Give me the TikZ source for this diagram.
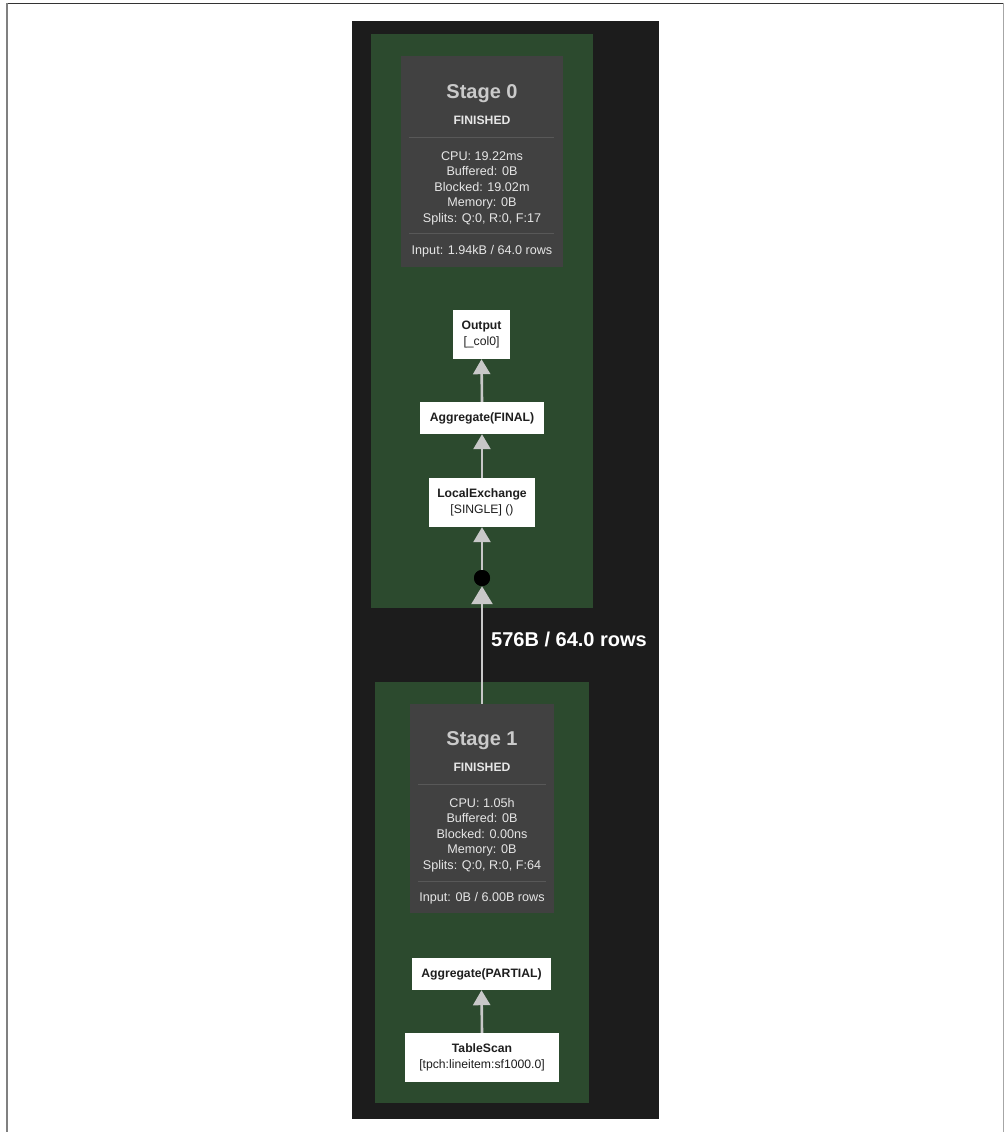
\documentclass[tikz,border=0pt]{standalone}
\usepackage{fontspec}
\setmainfont{Liberation Sans}
\usetikzlibrary{arrows.meta}
\definecolor{bgdark}{HTML}{1C1C1C}
\definecolor{stagegreen}{HTML}{2C4A2E}
\definecolor{boxgray}{HTML}{414141}
\definecolor{sepgray}{HTML}{585858}
\definecolor{titlegray}{HTML}{CACACA}
\definecolor{statgray}{HTML}{E6E6E6}
\definecolor{arrowgray}{HTML}{C8C8C8}
\definecolor{nodetext}{HTML}{1E1E1E}
\newcommand\myfs[2]{\fontsize{#1}{#2}\selectfont}
\begin{document}
\begin{tikzpicture}[x=1pt,y=-1pt,
  stagebg/.style={fill=stagegreen, draw=none, inner sep=0},
  statbox/.style={fill=boxgray, draw=none, inner sep=0},
  opnode/.style={fill=white, draw=none, inner sep=0, align=center, text=nodetext, font=\myfs{12.2}{16}},
  titletext/.style={inner sep=0, text=titlegray, font=\myfs{20}{24}\bfseries},
  statetext/.style={inner sep=0, text=statgray, font=\myfs{12.2}{15}\bfseries},
  stattext/.style={inner sep=0, text=statgray, align=center, font=\myfs{12.6}{15.5}},
  sepline/.style={draw=sepgray, line width=0.8pt},
  flow/.style={draw=arrowgray, line width=2.6pt, -{Triangle[width=17pt,length=15pt]}},
  bigflow/.style={draw=arrowgray, line width=2.6pt, -{Triangle[width=21pt,length=18pt]}},
  edgelabel/.style={inner sep=0, text=white, font=\myfs{20}{23}\bfseries}
]
\useasboundingbox (0,0) rectangle (1004,1132);
\fill[white] (0,0) rectangle (1004,1132);
% frame lines
\draw[draw=black!80, line width=1pt] (6,3.3) -- (1004,3.3);
\draw[draw=black!50, line width=1.4pt] (6.8,3) -- (6.8,1132);
\draw[draw=black!35, line width=1.2pt] (1003.2,3) -- (1003.2,1132);
% dark panel
\fill[bgdark] (352,21) rectangle (659,1119);

% Stage 0
\node[stagebg, minimum width=222pt, minimum height=574pt] (s0bg) at (482,321) {};
\node[statbox, minimum width=162pt, minimum height=211pt] (s0box) at (482,161.5) {};
\node[titletext] (s0title) at (482,93.5) {Stage 0};
\node[statetext] (s0state) at (482,120) {FINISHED};
\coordinate (s0sepAl) at (409,137);
\coordinate (s0sepAr) at (554,137);
\draw[sepline] (s0sepAl) -- (s0sepAr);
\node[stattext] (s0stats) at (482,188) {CPU: 19.22ms\\Buffered: 0B\\Blocked: 19.02m\\Memory: 0B\\Splits: Q:0, R:0, F:17};
\coordinate (s0sepBl) at (409,233);
\coordinate (s0sepBr) at (554,233);
\draw[sepline] (s0sepBl) -- (s0sepBr);
\node[stattext] (s0input) at (482,251) {Input: 1.94kB / 64.0 rows};

\node[opnode, minimum width=57pt, minimum height=49pt] (out) at (481.5,334.5) {\textbf{Output}\\{[}\_col0{]}};
\node[opnode, minimum width=124pt, minimum height=32pt] (aggf) at (482,418) {\textbf{Aggregate(FINAL)}};
\node[opnode, minimum width=106pt, minimum height=49pt] (lex) at (482,502.5) {\textbf{LocalExchange}\\{[}SINGLE{]} ()};
\node[circle, fill=black, inner sep=0, minimum size=16pt] (dot) at (482,578) {};

% Stage 1
\node[stagebg, minimum width=214pt, minimum height=421pt] (s1bg) at (482,892.5) {};
\node[statbox, minimum width=144pt, minimum height=209pt] (s1box) at (482,808.5) {};
\node[titletext] (s1title) at (482,740.5) {Stage 1};
\node[statetext] (s1state) at (482,767) {FINISHED};
\coordinate (s1sepAl) at (418,784);
\coordinate (s1sepAr) at (546,784);
\draw[sepline] (s1sepAl) -- (s1sepAr);
\node[stattext] (s1stats) at (482,835) {CPU: 1.05h\\Buffered: 0B\\Blocked: 0.00ns\\Memory: 0B\\Splits: Q:0, R:0, F:64};
\coordinate (s1sepBl) at (418,881);
\coordinate (s1sepBr) at (546,881);
\draw[sepline] (s1sepBl) -- (s1sepBr);
\node[stattext] (s1input) at (482,898) {Input: 0B / 6.00B rows};

\node[opnode, minimum width=139pt, minimum height=32pt] (aggp) at (481.5,974) {\textbf{Aggregate(PARTIAL)}};
\node[opnode, minimum width=154pt, minimum height=49pt] (scan) at (482,1057.5) {\textbf{TableScan}\\{[}tpch:lineitem:sf1000.0{]}};

% connectors
\draw[flow] (aggf.north) -- (out.south);
\draw[flow] (lex.north) -- (aggf.south);
\draw[flow] (dot.center) -- (lex.south);
\draw[bigflow] (s1box.north) -- (dot.south);
\draw[flow] (scan.north) -- (aggp.south);
\node[circle, fill=black, inner sep=0, minimum size=16pt] (dottop) at (dot) {};

\node[edgelabel, anchor=west] (lbl) at (491,639) {576B / 64.0 rows};
\end{tikzpicture}
\end{document}
